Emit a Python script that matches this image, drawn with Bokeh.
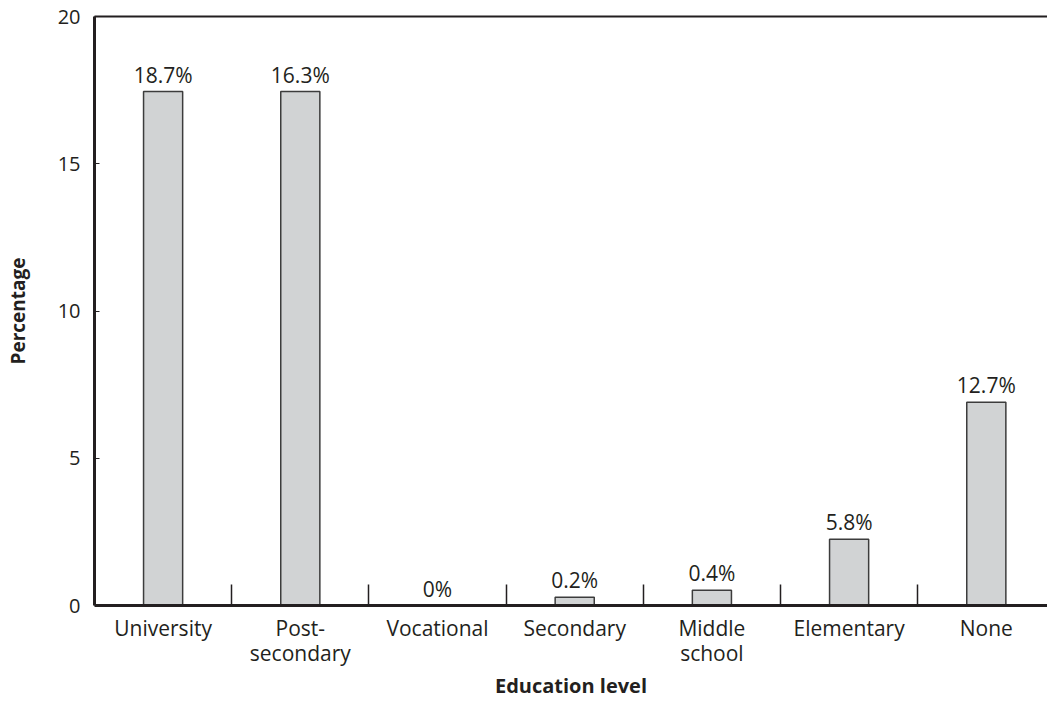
from bokeh.plotting import figure
from bokeh.models import ColumnDataSource, FixedTicker, LinearAxis, LabelSet, Range1d
from bokeh.core.properties import value
from bokeh.embed import file_html
from bokeh.resources import INLINE

categories = ["University", "Post-\nsecondary", "Vocational", "Secondary", "Middle\nschool", "Elementary", "None"]
bar_heights = [17.45, 17.45, 0.0, 0.28, 0.52, 2.25, 6.9]
bar_labels = ["18.7%", "16.3%", "0%", "0.2%", "0.4%", "5.8%", "12.7%"]
y_ticks = [0, 5, 10, 15, 20]

positions = list(range(1, len(categories) + 1))
boundaries = [x + 0.5 for x in positions[:-1]]

FONT = "Open Sans"
INK = "#231f20"

src = ColumnDataSource(dict(x=positions, top=bar_heights, label=bar_labels))

p = figure(width=1047, height=701, output_backend="svg", toolbar_location=None,
           x_range=Range1d(0.5, 7.446), y_range=Range1d(0, 20),
           min_border_left=94, min_border_top=16, min_border_right=0, min_border_bottom=96)
p.xgrid.visible = False
p.ygrid.visible = False
p.outline_line_color = None
p.background_fill_color = "white"
p.border_fill_color = "white"

p.vbar(x="x", top="top", bottom=0, width=0.285, source=src,
       fill_color="#d1d3d4", line_color="#3c3c3c", line_width=1.5)

labels = LabelSet(x="x", y="top", text="label", source=src, y_offset=9,
                  text_align="center", text_baseline="alphabetic",
                  text_font=value(FONT), text_font_size=value("21px"), text_color=INK)
p.add_layout(labels)

xa = p.xaxis[0]
xa.ticker = FixedTicker(ticks=positions, minor_ticks=boundaries)
xa.major_label_overrides = {pos: cat for pos, cat in zip(positions, categories)}
xa.major_tick_line_color = None
xa.minor_tick_in = 21
xa.minor_tick_out = 0
xa.minor_tick_line_width = 1.5
xa.minor_tick_line_color = INK
xa.axis_line_width = 3
xa.axis_line_color = INK
xa.major_label_standoff = 2
xa.major_label_text_font = FONT
xa.major_label_text_font_size = "21px"
xa.major_label_text_color = INK
xa.major_label_text_line_height = 0.91
xa.axis_label = "Education level"
xa.axis_label_text_font = FONT
xa.axis_label_text_font_style = "bold"
xa.axis_label_text_font_size = "20px"
xa.axis_label_text_color = INK
xa.axis_label_standoff = 2

ya = p.yaxis[0]
ya.ticker = FixedTicker(ticks=y_ticks, minor_ticks=[])
ya.major_tick_in = 5
ya.major_tick_out = 0
ya.major_tick_line_width = 1.2
ya.major_tick_line_color = INK
ya.minor_tick_line_color = None
ya.axis_line_width = 3
ya.axis_line_color = INK
ya.major_label_standoff = 14
ya.major_label_text_font = FONT
ya.major_label_text_font_size = "20px"
ya.major_label_text_color = INK
ya.axis_label = "Percentage"
ya.axis_label_text_font = FONT
ya.axis_label_text_font_style = "bold"
ya.axis_label_text_font_size = "19px"
ya.axis_label_text_color = INK
ya.axis_label_standoff = 24

top_axis = LinearAxis(ticker=FixedTicker(ticks=[], minor_ticks=[]),
                      axis_line_width=2, axis_line_color=INK,
                      major_tick_line_color=None, minor_tick_line_color=None)
p.add_layout(top_axis, "above")

open("out.html", "w").write(file_html(p, INLINE))
